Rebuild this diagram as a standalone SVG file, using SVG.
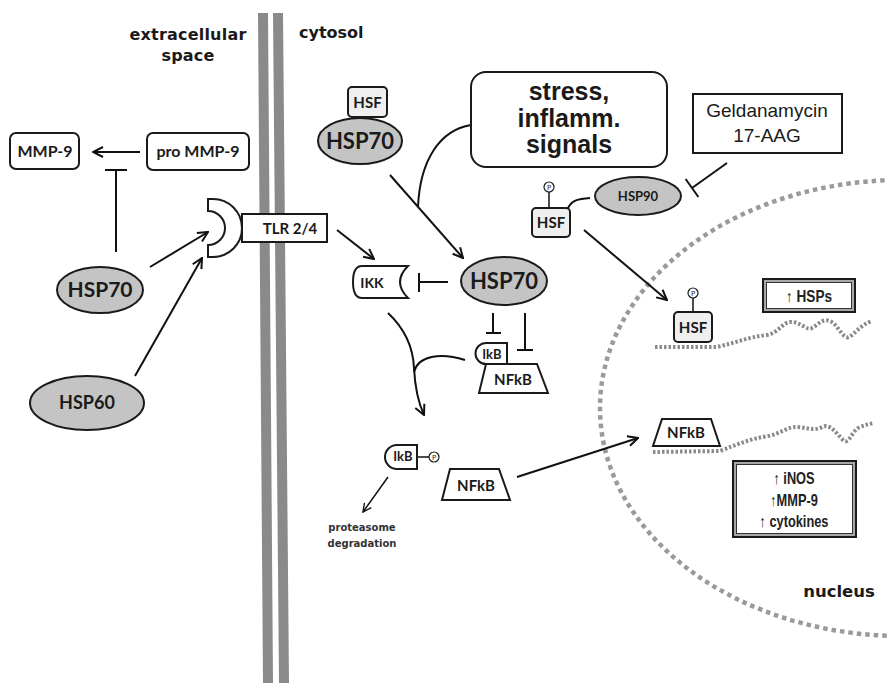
<svg xmlns="http://www.w3.org/2000/svg" width="888" height="683" viewBox="0 0 888 683">
  <defs>
    <marker id="arr" viewBox="0 0 12 12" refX="11" refY="6" markerWidth="12" markerHeight="12" markerUnits="userSpaceOnUse" orient="auto">
      <path d="M1,1 L11,6 L1,11" fill="none" stroke="#111" stroke-width="2" stroke-linejoin="miter"/>
    </marker>
    <marker id="arrThin" viewBox="0 0 12 12" refX="11" refY="6" markerWidth="10" markerHeight="10" markerUnits="userSpaceOnUse" orient="auto">
      <path d="M1,1 L11,6 L1,11" fill="none" stroke="#111" stroke-width="1.6"/>
    </marker>
  </defs>
  <style>
    .geo { font-family: "DejaVu Sans", Lato, sans-serif; font-weight: bold; fill: #1a1a1a; }
    .lbl { font-family: Lato, "DejaVu Sans", sans-serif; font-weight: bold; fill: #1a1a1a; text-anchor: middle; }
    .arial { font-family: "Liberation Sans", Arial, sans-serif; fill: #1a1a1a; text-anchor: middle; }
    .narrow { font-family: "Liberation Sans", Arial, sans-serif; font-weight: bold; fill: #222; text-anchor: middle; }
    .box { fill: #fff; stroke: #1a1a1a; stroke-width: 2; }
    .hsp { fill: #c4c4c4; stroke: #1a1a1a; stroke-width: 2; }
    .hsf { fill: #efefef; stroke: #1a1a1a; stroke-width: 2; }
    .wire { fill: none; stroke: #111; stroke-width: 2; }
    .thin { fill: none; stroke: #111; stroke-width: 1.5; }
    .pcirc { fill: #fff; stroke: #1a1a1a; stroke-width: 1.2; }
    .ptxt { font-family: "DejaVu Sans", sans-serif; font-size: 7px; fill: #1a1a1a; text-anchor: middle; }
    .dna { fill: none; stroke: #8a8a8a; stroke-width: 4; stroke-dasharray: 2.5 2; }
    .membrane { fill: #8a8a8a; }
    .small { fill: #333; }
  </style>

  <!-- nuclear envelope -->
  <ellipse id="nuclear-envelope" cx="902" cy="408" rx="302" ry="228" fill="none" stroke="#9a9a9a" stroke-width="4.5" stroke-dasharray="4.5 4"/>

  <!-- plasma membrane -->
  <g id="membrane">
    <polygon class="membrane" points="258,13 268,13 273,683 263,683"/>
    <polygon class="membrane" points="273,13 283,13 289,683 279,683"/>
  </g>

  <!-- compartment labels -->
  <g id="compartments">
    <text class="geo" x="188" y="40" font-size="16" text-anchor="middle" letter-spacing="0.2">extracellular</text>
    <text class="geo" x="188" y="61" font-size="16" text-anchor="middle" letter-spacing="0.2">space</text>
    <text class="geo" x="299" y="38" font-size="16">cytosol</text>
    <text class="geo" x="839" y="597" font-size="16.5" text-anchor="middle">nucleus</text>
  </g>

  <!-- DNA strands -->
  <g id="dna">
    <path class="dna" d="M655,347 L717,347 C735,343 748,337 767,335 C778,333 782,323 790,322 C800,321 806,331 812,328 C818,325 822,318 830,321 C838,324 843,340 849,337 C855,334 860,325 872,321"/>
    <path class="dna" d="M653,452 L720,451 C738,444 750,439 768,436 C780,434 788,426 798,427 C808,428 815,431 822,427 C830,423 836,433 843,440 C849,446 852,430 860,427 C865,425 869,424 874,423"/>
  </g>

  <!-- connectors -->
  <g id="connectors">
    <!-- pro MMP-9 to MMP-9 -->
    <line class="wire" x1="140" y1="152" x2="93" y2="152" marker-end="url(#arr)"/>
    <!-- HSP70 inhibits MMP-9 activation -->
    <line class="wire" x1="116" y1="252" x2="116" y2="170"/>
    <line class="wire" x1="105" y1="170" x2="127" y2="170"/>
    <!-- HSP70 / HSP60 to TLR -->
    <line class="wire" x1="150" y1="267" x2="208" y2="232" marker-end="url(#arr)"/>
    <line class="wire" x1="135" y1="376" x2="202" y2="258" marker-end="url(#arr)"/>
    <!-- TLR to IKK -->
    <line class="wire" x1="337" y1="230" x2="374" y2="259" marker-end="url(#arr)"/>
    <!-- HSF/HSP70 release to HSP70 -->
    <line class="wire" x1="390" y1="175" x2="463" y2="258" marker-end="url(#arr)"/>
    <path class="wire" d="M471,125 C440,130 420,160 418,207"/>
    <!-- HSP70 inhibits IKK -->
    <line class="wire" x1="448" y1="282" x2="419" y2="282"/>
    <line class="wire" x1="419" y1="273" x2="419" y2="292"/>
    <!-- HSP70 inhibits IkB / NFkB -->
    <line class="wire" x1="493" y1="313" x2="493" y2="333"/>
    <line class="wire" x1="486" y1="333" x2="501" y2="333"/>
    <line class="wire" x1="525" y1="313" x2="525" y2="350"/>
    <line class="wire" x1="517" y1="350" x2="533" y2="350"/>
    <!-- IKK phosphorylates IkB -->
    <path class="wire" d="M388,313 C404,328 413,345 414,368 C415,388 418,402 424,415" marker-end="url(#arr)"/>
    <path class="wire" d="M465,360 C440,352 418,356 414,372"/>
    <!-- IkB to proteasome -->
    <line class="thin" x1="388" y1="477" x2="363" y2="512" marker-end="url(#arrThin)"/>
    <!-- NFkB translocation -->
    <line class="wire" x1="517" y1="477" x2="638" y2="438" marker-end="url(#arr)"/>
    <!-- HSF to nucleus -->
    <line class="wire" x1="584" y1="230" x2="667" y2="300" marker-end="url(#arr)"/>
    <!-- Geldanamycin inhibits HSP90 -->
    <line class="wire" x1="727" y1="163" x2="692" y2="188"/>
    <line class="wire" x1="685.6" y1="179" x2="698.4" y2="197"/>
    <!-- HSF bound to HSP90 -->
    <path class="wire" d="M568,208 C572,200 578,199 590,198"/>
  </g>

  <!-- extracellular nodes -->
  <g id="mmp9">
    <rect class="box" x="10" y="133" width="69" height="36" rx="6"/>
    <text class="lbl" x="45" y="157" font-size="16">MMP-9</text>
  </g>
  <g id="pro-mmp9">
    <rect class="box" x="147" y="133" width="102" height="37" rx="6"/>
    <text class="lbl" x="198" y="157" font-size="16">pro MMP-9</text>
  </g>
  <g id="hsp70-ext">
    <ellipse class="hsp" cx="100" cy="290" rx="43" ry="23"/>
    <text class="lbl" x="100" y="297" font-size="21">HSP70</text>
  </g>
  <g id="hsp60">
    <ellipse class="hsp" cx="87" cy="403" rx="57" ry="27"/>
    <text class="lbl" x="87" y="409" font-size="18">HSP60</text>
  </g>

  <!-- receptor -->
  <g id="tlr">
    <rect class="box" x="242" y="214" width="85" height="28"/>
    <text class="lbl" x="290" y="234" font-size="15">TLR 2/4</text>
    <path class="box" d="M208,199 L213,199 A29,29 0 0 1 213,257 L208,257 L208,245 A17,17 0 0 0 208,211 Z"/>
  </g>

  <!-- cytosol nodes -->
  <g id="hsf-hsp70">
    <rect class="hsf" x="348" y="87" width="39" height="30" rx="4"/>
    <text class="lbl" x="367.5" y="108" font-size="15">HSF</text>
    <ellipse class="hsp" cx="360" cy="141" rx="42" ry="23"/>
    <text class="lbl" x="360" y="149" font-size="22">HSP70</text>
  </g>
  <g id="stress">
    <rect class="box" x="471" y="72" width="196" height="95" rx="15" stroke-width="2.5"/>
    <text class="arial" x="569" y="100" font-size="25" font-weight="bold">stress,</text>
    <text class="arial" x="569" y="127" font-size="25" font-weight="bold">inflamm.</text>
    <text class="arial" x="569" y="153" font-size="25" font-weight="bold">signals</text>
  </g>
  <g id="geldanamycin">
    <rect class="box" x="693" y="94" width="149" height="59"/>
    <text class="arial" x="767" y="117" font-size="19">Geldanamycin</text>
    <text class="arial" x="767" y="142" font-size="19">17-AAG</text>
  </g>
  <g id="hsp90">
    <ellipse class="hsp" cx="638" cy="196" rx="43" ry="19"/>
    <text class="lbl" x="638" y="201" font-size="13">HSP90</text>
  </g>
  <g id="hsf-p-cyt">
    <line class="thin" x1="549" y1="192" x2="549" y2="208"/>
    <circle class="pcirc" cx="549" cy="187" r="5"/>
    <text class="ptxt" x="549" y="189.5">P</text>
    <rect class="hsf" x="532" y="208" width="38" height="29" rx="4"/>
    <text class="lbl" x="551" y="228" font-size="15">HSF</text>
  </g>
  <g id="ikk">
    <path class="box" d="M362,266 H408 Q392,282 408,298 H362 Q353,298 353,282 Q353,266 362,266 Z"/>
    <text class="lbl" x="372" y="288" font-size="14">IKK</text>
  </g>
  <g id="hsp70-cyt">
    <ellipse class="hsp" cx="504" cy="281" rx="43" ry="24"/>
    <text class="lbl" x="504" y="289" font-size="22">HSP70</text>
  </g>
  <g id="ikb-nfkb">
    <path class="box" d="M486,343 H507 V364 H486 A10.5,10.5 0 0 1 486,343 Z"/>
    <text class="lbl" x="492" y="359" font-size="13">IkB</text>
    <polygon class="box" points="486,364 537,364 548,393 479,393"/>
    <text class="lbl" x="513" y="385" font-size="15">NFkB</text>
  </g>
  <g id="ikb-p">
    <line class="thin" x1="417" y1="457" x2="429" y2="457"/>
    <circle class="pcirc" cx="434" cy="457" r="5"/>
    <text class="ptxt" x="434" y="459.5">P</text>
    <path class="box" d="M397,445 H417 V469 H397 A12,12 0 0 1 397,445 Z"/>
    <text class="lbl" x="403" y="461" font-size="13">IkB</text>
  </g>
  <g id="proteasome">
    <text class="geo small" x="362" y="531" font-size="10" text-anchor="middle">proteasome</text>
    <text class="geo small" x="362" y="547" font-size="10" text-anchor="middle">degradation</text>
  </g>
  <g id="nfkb-cyt">
    <polygon class="box" points="450,469 499,469 510,500 442,500"/>
    <text class="lbl" x="476" y="491" font-size="15">NFkB</text>
  </g>

  <!-- nuclear nodes -->
  <g id="hsf-p-nuc">
    <line class="thin" x1="693" y1="298" x2="693" y2="312"/>
    <circle class="pcirc" cx="693" cy="293" r="5"/>
    <text class="ptxt" x="693" y="295.5">P</text>
    <rect class="hsf" x="674" y="312" width="38" height="30" rx="4" stroke-width="2.5"/>
    <text class="lbl" x="693" y="333" font-size="15">HSF</text>
  </g>
  <g id="hsps">
    <rect x="763" y="279" width="92" height="33" fill="#a8a8a8" stroke="#1a1a1a" stroke-width="2"/>
    <rect x="766.5" y="282.5" width="85" height="26" fill="#fff" stroke="#333" stroke-width="1"/>
    <text class="narrow" x="809" y="302" font-size="16" transform="translate(809 0) scale(0.85 1) translate(-809 0)">↑ HSPs</text>
  </g>
  <g id="nfkb-nuc">
    <polygon class="box" points="662,419 711,419 720,446 653,446"/>
    <text class="lbl" x="686" y="438" font-size="15">NFkB</text>
  </g>
  <g id="targets">
    <rect x="733" y="461" width="123" height="76" fill="#a8a8a8" stroke="#1a1a1a" stroke-width="2"/>
    <rect x="736.5" y="464.5" width="116" height="69" fill="#fff" stroke="#333" stroke-width="1"/>
    <g transform="translate(794 0) scale(0.8 1) translate(-794 0)">
      <text class="narrow" x="794" y="484" font-size="16">↑ iNOS</text>
      <text class="narrow" x="794" y="506" font-size="16">↑MMP-9</text>
      <text class="narrow" x="794" y="527" font-size="16">↑ cytokines</text>
    </g>
  </g>
</svg>
